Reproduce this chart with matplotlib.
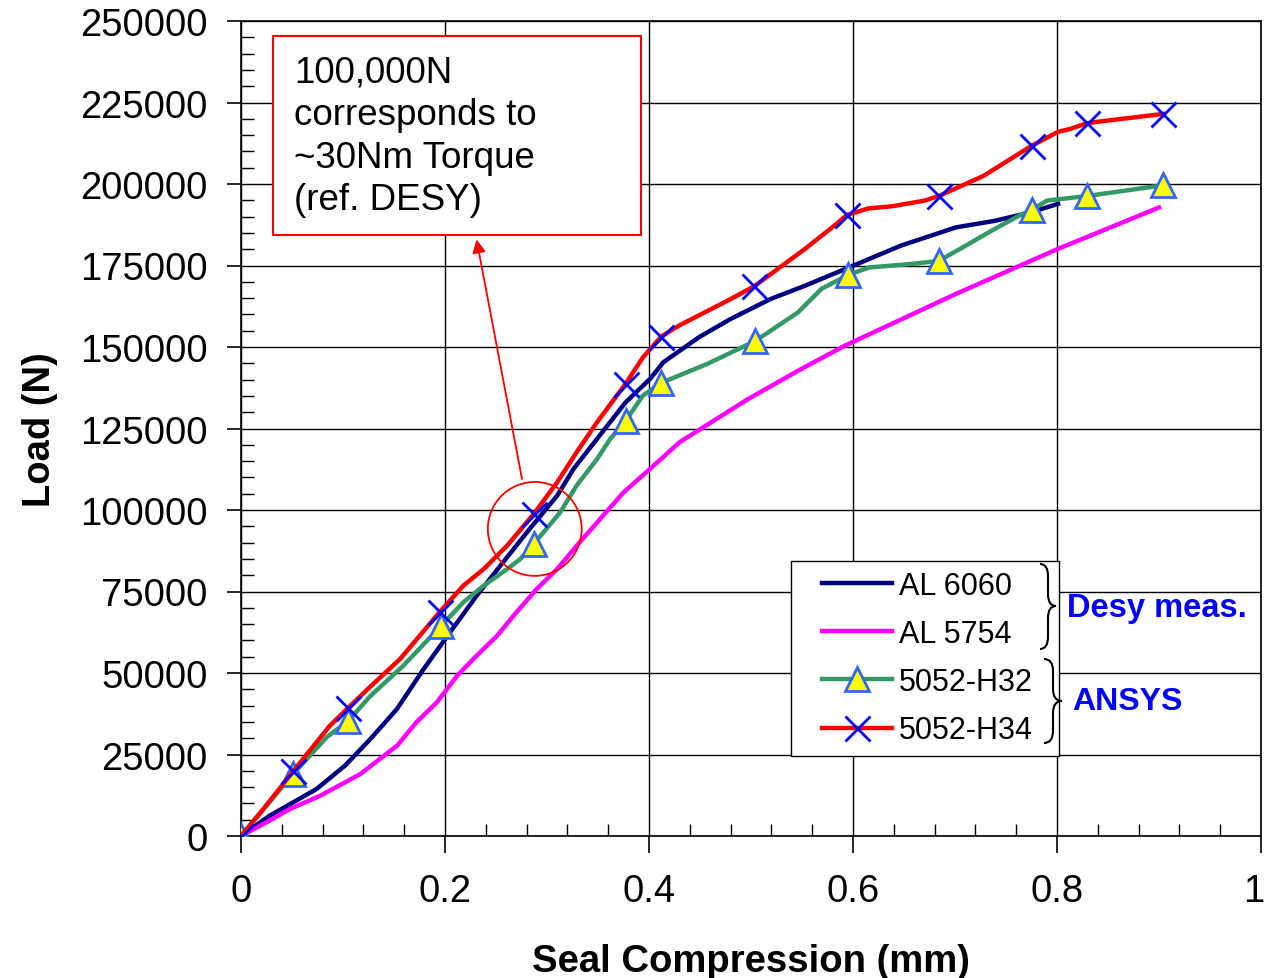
import matplotlib
matplotlib.use("Agg")
import matplotlib.pyplot as plt
from matplotlib.patches import Rectangle, Ellipse, PathPatch
from matplotlib.path import Path
from matplotlib.ticker import MultipleLocator
from matplotlib.transforms import ScaledTranslation

plt.rcParams["font.family"] = ["Liberation Sans", "DejaVu Sans"]

# AL 6060 (Desy measurement)
al6060_x = [0, 0.028, 0.074, 0.102, 0.127, 0.153, 0.179, 0.205, 0.231, 0.257, 0.283,
            0.310, 0.326, 0.349, 0.377, 0.401, 0.414, 0.449, 0.480, 0.519, 0.553,
            0.596, 0.647, 0.701, 0.739, 0.774, 0.801]
al6060_y = [0, 6200, 14400, 21600, 29800, 39000, 51200, 62500, 73700, 84000, 94200,
            104400, 112600, 121800, 133000, 140200, 145300, 153000, 158600, 164700, 168800,
            174400, 181100, 186700, 188700, 191300, 193900]

# AL 5754 (Desy measurement)
al5754_x = [0, 0.025, 0.048, 0.078, 0.117, 0.136, 0.153, 0.172, 0.192, 0.212, 0.231,
            0.251, 0.270, 0.290, 0.310, 0.329, 0.352, 0.375, 0.401, 0.430, 0.497,
            0.546, 0.592, 0.701, 0.801, 0.900]
al5754_y = [0, 4200, 8300, 12400, 19000, 23600, 27700, 34900, 41000, 49200, 55300,
            61400, 68600, 75800, 81900, 89000, 97200, 105400, 112600, 120800, 134000,
            142700, 150400, 166300, 180100, 192800]

# 5052-H32 (ANSYS)
h32_x = [0, 0.051, 0.084, 0.105, 0.127, 0.159, 0.196, 0.218, 0.238, 0.261, 0.274,
         0.287, 0.313, 0.329, 0.349, 0.362, 0.377, 0.394, 0.412, 0.429, 0.457,
         0.504, 0.546, 0.569, 0.595, 0.616, 0.658, 0.684, 0.705, 0.736, 0.763,
         0.775, 0.790, 0.829, 0.904]
h32_y = [0, 19000, 30300, 35300, 43000, 52200, 64400, 71700, 76800, 81900, 85000,
         89600, 99300, 107500, 115600, 121800, 127300, 135100, 139000, 141200, 144800,
         151800, 160600, 167800, 172100, 174400, 175500, 176400, 180100, 185700, 190300,
         192000, 194900, 196300, 199600]
h32_marks = [0, 1, 3, 6, 11, 16, 18, 21, 24, 27, 31, 33, 34]

# 5052-H34 (ANSYS)
h34_x = [0, 0.022, 0.051, 0.087, 0.105, 0.126, 0.156, 0.195, 0.218, 0.238, 0.261,
         0.287, 0.310, 0.329, 0.349, 0.377, 0.394, 0.412, 0.429, 0.480, 0.503,
         0.526, 0.553, 0.580, 0.594, 0.615, 0.639, 0.670, 0.684, 0.728, 0.775,
         0.801, 0.813, 0.829, 0.840, 0.904]
h34_y = [0, 8300, 19800, 33800, 39300, 45600, 54300, 68800, 76800, 81900, 89100,
         98800, 108500, 117700, 126900, 138700, 146800, 153200, 156500, 164700, 168600,
         173900, 180100, 186800, 190500, 192500, 193200, 194900, 196300, 202500, 211700,
         216000, 216900, 218600, 219100, 221500]
h34_marks = [0, 2, 4, 7, 11, 15, 17, 20, 24, 28, 30, 33, 35]

W, H = 1268, 979
fig = plt.figure(figsize=(W / 100, H / 100), dpi=100)
ax = fig.add_axes([241 / W, 1 - 837 / H, 1020 / W, 815 / H])

ax.plot(al6060_x, al6060_y, color="#000080", lw=3.2, label="AL 6060", zorder=3)
ax.plot(al5754_x, al5754_y, color="#FF00FF", lw=3.2, label="AL 5754", zorder=3)
ax.plot(h32_x, h32_y, color="#339966", lw=3.2, marker="^", markevery=h32_marks,
        ms=17, mfc="#FFFF00", mec="#3366FF", mew=2, label="5052-H32", zorder=4)
ax.plot(h34_x, h34_y, color="#FF0000", lw=3.2, marker="x", markevery=h34_marks,
        ms=18, mec="#0000FF", mew=2, label="5052-H34", zorder=5)

ax.set_xlim(0, 1)
ax.set_ylim(0, 250000)
ax.xaxis.set_minor_locator(MultipleLocator(0.04))
ax.yaxis.set_major_locator(MultipleLocator(25000))
ax.yaxis.set_minor_locator(MultipleLocator(5000))
ax.set_xticks([0, 0.2, 0.4, 0.6, 0.8, 1.0])
ax.set_xticklabels(["0", "0.2", "0.4", "0.6", "0.8", "1"])
ax.tick_params(which="major", direction="out", width=1.2, labelsize=27.5)
ax.tick_params(axis="x", which="major", length=12, pad=15)
ax.tick_params(axis="y", which="major", length=10, pad=14)
ax.tick_params(which="minor", direction="in", length=9, width=1)
ax.grid(True, which="major", color="#000000", lw=1.0)
for s in ax.spines.values():
    s.set_linewidth(1.2)

# keep the last x label inside the picture
last = ax.get_xticklabels()[-1]
last.set_transform(last.get_transform() + ScaledTranslation(-7 / 100, 0, fig.dpi_scale_trans))

ax.set_xlabel("Seal Compression (mm)", fontsize=27.5, fontweight="bold", labelpad=24)
ax.set_ylabel("Load (N)", fontsize=27.5, fontweight="bold", labelpad=16)

# annotation box, circle and arrow
ax.add_patch(Rectangle((0.0314, 184400), 0.3606, 61000, facecolor="white",
                       edgecolor="#FF0000", lw=1.5, zorder=6))
ax.text(0.052, 239800, "100,000N\ncorresponds to\n~30Nm Torque\n(ref. DESY)",
        fontsize=26.5, va="top", ha="left", linespacing=1.285, zorder=7)
ax.add_patch(Ellipse((0.288, 94200), 0.092, 28800, fill=False, edgecolor="#FF0000",
                     lw=1.3, zorder=6))
ax.annotate("", xy=(0.2309, 183000), xytext=(0.2755, 109500),
            arrowprops=dict(arrowstyle="-|>", color="#FF0000", lw=1.3,
                            mutation_scale=20, shrinkA=0, shrinkB=0), zorder=6)

# legend frame drawn separately for the wide padding
ax.add_patch(Rectangle((0.5392, 0.0982), 0.2627, 0.2393, transform=ax.transAxes,
                       facecolor="white", edgecolor="#000000", lw=1.0, zorder=7))
leg = ax.legend(loc="upper left", bbox_to_anchor=(0.5696, 0.3250), fontsize=22,
                frameon=False, handlelength=2.3, handletextpad=0.23,
                labelspacing=0.59, borderpad=0, borderaxespad=0)
leg.set_zorder(8)


def brace(x0, x1, ytop, ybot, ymid):
    xm = (x0 + x1) / 2
    d = 12
    pts = [(x0, ytop), (xm, ytop), (xm, ytop + d), (xm, ymid - d), (xm, ymid), (x1, ymid),
           (xm, ymid), (xm, ymid + d), (xm, ybot - d), (xm, ybot), (x0, ybot)]
    codes = [Path.MOVETO, Path.CURVE3, Path.CURVE3, Path.LINETO, Path.CURVE3, Path.CURVE3,
             Path.CURVE3, Path.CURVE3, Path.LINETO, Path.CURVE3, Path.CURVE3]
    pts = [(px / W, 1 - py / H) for px, py in pts]
    fig.add_artist(PathPatch(Path(pts, codes), fill=False, lw=1.5, edgecolor="black",
                             transform=fig.transFigure, zorder=9))


brace(1040, 1056, 565, 650, 607)
brace(1044, 1062, 660, 744, 702)
fig.text(1157 / W, 1 - 608 / H, "Desy meas.", color="#0000FF", fontsize=23.5,
         fontweight="bold", ha="center", va="center", zorder=10)
fig.text(1127 / W, 1 - 702 / H, "ANSYS", color="#0000FF", fontsize=23,
         fontweight="bold", ha="center", va="center", zorder=10)

fig.savefig("out.png", dpi=100)
